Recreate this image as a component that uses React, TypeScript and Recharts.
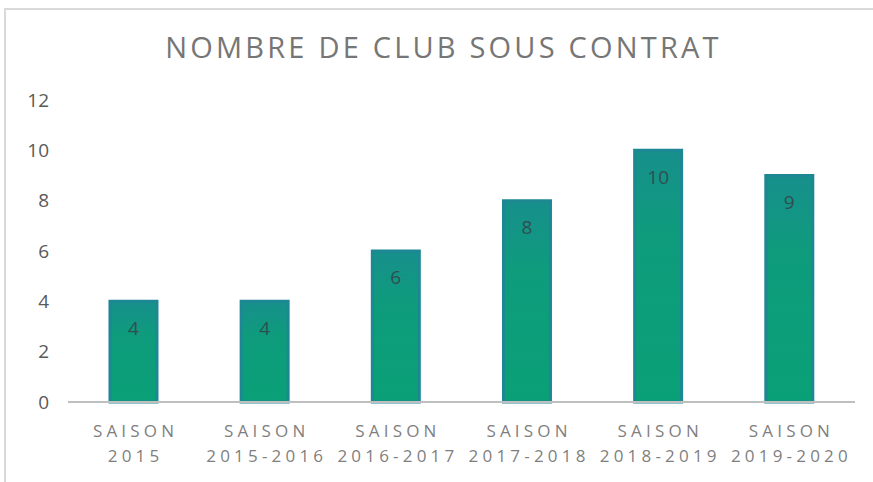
import React from 'react'
import { BarChart, Bar, XAxis, YAxis, LabelList } from 'recharts'

const seasons = ['2015', '2015-2016', '2016-2017', '2017-2018', '2018-2019', '2019-2020']
const clubs = [4, 4, 6, 8, 10, 9]
const yTicks = [0, 2, 4, 6, 8, 10, 12]

const data = seasons.map((s, i) => ({ season: s, clubs: clubs[i] }))

const FONT = '"Open Sans", "Liberation Sans", sans-serif'

const SeasonTick = ({ x, y, payload }: any) => (
  <g transform={`translate(${x},${y})`}>
    <text textAnchor="middle" fill="#7f7f7f" fontSize={17} fontFamily={FONT} letterSpacing={4.2}>
      <tspan x={2} dy={27}>SAISON</tspan>
      <tspan x={2} dy={25}>{payload.value}</tspan>
    </text>
  </g>
)

export default function App() {
  return (
    <div style={{ position: 'absolute', left: 0, top: 0, width: 873, height: 482, background: '#fff', overflow: 'hidden' }}>
      <div
        style={{
          position: 'absolute',
          left: 4,
          top: 8,
          width: 880,
          height: 490,
          border: '2px solid #d9d9d9',
          boxSizing: 'border-box'
        }}
      />
      <div
        style={{
          position: 'absolute',
          top: 27,
          left: 7,
          width: 873,
          textAlign: 'center',
          fontFamily: FONT,
          fontSize: 29,
          fontWeight: 500,
          letterSpacing: 3.2,
          color: '#767676'
        }}
      >
        NOMBRE DE CLUB SOUS CONTRAT
      </div>
      <div style={{ position: 'absolute', left: 0, top: 0 }}>
        <BarChart width={873} height={482} data={data} margin={{ top: 100, right: 18, bottom: 20, left: 0 }} barCategoryGap="32%">
          <defs>
            <linearGradient id="barFill" x1="0" y1="0" x2="0" y2="1">
              <stop offset="0%" stopColor="#178f8c" />
              <stop offset="35%" stopColor="#0e9c7c" />
              <stop offset="100%" stopColor="#0aa077" />
            </linearGradient>
          </defs>
          <XAxis
            dataKey="season"
            height={60}
            axisLine={{ stroke: '#bfbfbf', strokeWidth: 2 }}
            tickLine={false}
            interval={0}
            tick={<SeasonTick />}
          />
          <YAxis
            width={68}
            domain={[0, 12]}
            ticks={yTicks}
            axisLine={false}
            tickLine={false}
            tickSize={0}
            tickMargin={19}
            tick={{ fill: '#595959', fontSize: 19, fontFamily: FONT }}
          />
          <Bar dataKey="clubs" fill="url(#barFill)" stroke="#1d8893" strokeWidth={3} isAnimationActive={false}>
            <LabelList dataKey="clubs" position="insideTop" offset={20} fill="#2f4f4f" fontSize={19} fontFamily={FONT} />
          </Bar>
        </BarChart>
      </div>
    </div>
  )
}
